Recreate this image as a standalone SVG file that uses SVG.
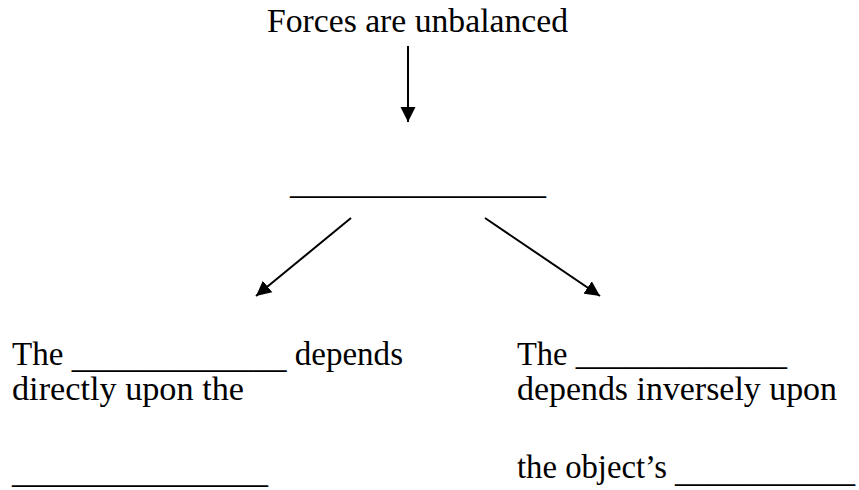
<svg xmlns="http://www.w3.org/2000/svg" width="859" height="490" viewBox="0 0 859 490">
<style>
text { font-family: "Liberation Serif", "Times New Roman", serif; font-size: 33px; fill: #000; }
.conn { stroke: #000; stroke-width: 2; fill: none; marker-end: url(#ah); }
</style>
<defs>
<marker id="ah" markerUnits="userSpaceOnUse" markerWidth="16" markerHeight="16" viewBox="0 0 16 16" refX="15" refY="8" orient="auto">
<path d="M0,0.5 L15,8 L0,15.5 z" fill="#000"/>
</marker>
</defs>
<rect width="859" height="490" fill="#fff"/>
<g id="connectors">
<line class="conn" x1="408" y1="46" x2="408" y2="122"/>
<line class="conn" x1="351" y1="218" x2="256" y2="296"/>
<line class="conn" x1="485" y1="218" x2="600" y2="296"/>
</g>
<g id="top"><text x="267" y="32" textLength="301" lengthAdjust="spacingAndGlyphs">Forces are unbalanced</text></g>
<g id="middle"><text x="290" y="194" textLength="256" lengthAdjust="spacingAndGlyphs">________________</text></g>
<g id="left">
<text x="12" y="365" textLength="391" lengthAdjust="spacingAndGlyphs">The <tspan dy="3">_____________</tspan><tspan dy="-3"> depends</tspan></text>
<text x="12" y="400" textLength="232" lengthAdjust="spacingAndGlyphs">directly upon the</text>
<text x="12" y="483" textLength="256" lengthAdjust="spacingAndGlyphs">________________</text>
</g>
<g id="right">
<text x="517" y="365" textLength="270" lengthAdjust="spacingAndGlyphs">The _____________</text>
<text x="517" y="400" textLength="320" lengthAdjust="spacingAndGlyphs">depends inversely upon</text>
<text x="517" y="478" textLength="338" lengthAdjust="spacingAndGlyphs">the object’s <tspan dy="4">___________</tspan></text>
</g>
</svg>
